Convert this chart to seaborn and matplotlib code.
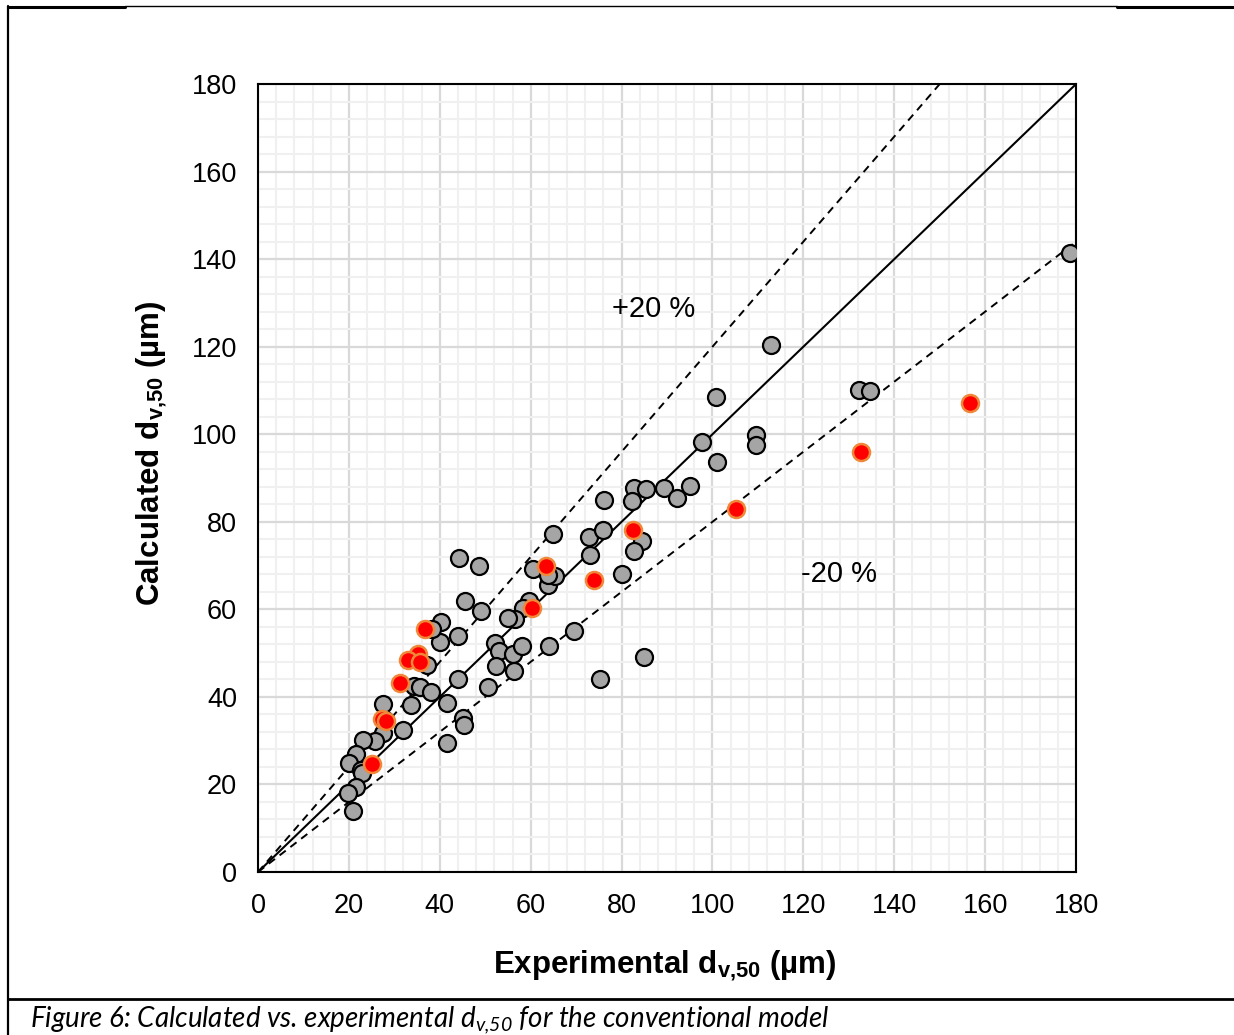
import numpy as np
import pandas as pd
import matplotlib
matplotlib.use("Agg")
import matplotlib.pyplot as plt
from matplotlib.lines import Line2D
from matplotlib.ticker import MultipleLocator
import seaborn as sns

# conventional model: grey points
gray_exp = [178.6, 112.9, 100.8, 132.3, 134.7, 109.5, 109.6, 97.7, 101.1, 82.8,
            85.4, 89.4, 95.1, 92.2, 82.2, 76.2, 72.8, 75.8, 64.8, 73.1,
            84.6, 82.8, 80.0, 75.3, 84.9, 69.5, 64.1, 63.8, 65.4, 60.4,
            63.8, 44.2, 48.6, 45.6, 49.0, 59.6, 58.4, 56.5, 55.1, 52.1,
            53.0, 56.2, 58.0, 52.4, 56.4, 50.5, 44.1, 44.0, 40.3, 40.0,
            37.2, 38.2, 34.4, 35.7, 38.0, 41.5, 33.7, 27.4, 27.6, 27.9,
            32.0, 25.7, 23.0, 21.6, 20.0, 22.7, 22.8, 21.6, 19.9, 20.8,
            41.5, 45.2, 45.4]
gray_calc = [141.5, 120.4, 108.6, 110.1, 109.8, 99.8, 97.5, 98.3, 93.6, 87.7,
             87.5, 87.8, 88.1, 85.5, 84.7, 85.0, 76.5, 78.1, 77.2, 72.5,
             75.6, 73.4, 68.1, 44.1, 49.1, 55.0, 51.6, 65.5, 67.6, 69.2,
             67.8, 71.8, 69.9, 61.8, 59.7, 61.8, 60.3, 57.7, 58.1, 52.4,
             50.4, 49.7, 51.7, 47.1, 45.9, 42.2, 44.1, 53.9, 57.1, 52.5,
             47.3, 55.5, 42.6, 42.2, 41.1, 38.5, 38.1, 38.4, 31.8, 34.7,
             32.4, 30.0, 30.2, 27.0, 25.0, 23.3, 22.7, 19.5, 18.0, 13.9,
             29.4, 35.1, 33.6]

# highlighted points (red)
red_exp = [156.7, 132.6, 105.2, 82.5, 73.9, 63.4, 60.2, 36.8, 35.2, 33.0,
           35.7, 31.3, 27.2, 28.2, 25.0]
red_calc = [107.1, 95.9, 82.9, 78.1, 66.7, 70.0, 60.4, 55.5, 49.9, 48.5,
            47.9, 43.1, 34.9, 34.5, 24.7]

ratios = [1.0, 1.2, 0.8]
band_labels = ["+20 %", "-20 %"]
band_label_pos = [(87.1, 128.6), (127.9, 68.1)]
ticks = list(range(0, 181, 20))

sns.set_style("white")
plt.rcParams["font.family"] = ["Liberation Sans", "DejaVu Sans"]
plt.rcParams["text.color"] = "black"
plt.rcParams["axes.labelcolor"] = "black"
plt.rcParams["xtick.color"] = "black"
plt.rcParams["ytick.color"] = "black"
plt.rcParams["mathtext.fontset"] = "custom"
plt.rcParams["mathtext.rm"] = "Lato:italic"
plt.rcParams["mathtext.it"] = "Lato:italic"
plt.rcParams["mathtext.bf"] = "Liberation Sans:bold"

df = pd.concat([
    pd.DataFrame({"exp": gray_exp, "calc": gray_calc, "set": "conv"}),
    pd.DataFrame({"exp": red_exp, "calc": red_calc, "set": "red"}),
], ignore_index=True)

fig = plt.figure(figsize=(12.34, 10.35), dpi=100)
ax = fig.add_axes([0.2091, 0.1575, 0.6629, 0.7613])

# grid
ax.xaxis.set_major_locator(MultipleLocator(20))
ax.yaxis.set_major_locator(MultipleLocator(20))
ax.xaxis.set_minor_locator(MultipleLocator(4))
ax.yaxis.set_minor_locator(MultipleLocator(4))
ax.grid(which="minor", color="#F0F0F0", lw=1.5, zorder=0)
ax.grid(which="major", color="#D9D9D9", lw=1.6, zorder=0)
ax.set_axisbelow(True)

# parity and +/-20 % lines
ax.axline((0, 0), slope=ratios[0], color="black", lw=1.5, zorder=2)
for r in ratios[1:]:
    ax.axline((0, 0), slope=r, color="black", lw=1.4, ls=(0, (4, 3)), zorder=2)

sns.scatterplot(data=df[df["set"] == "conv"], x="exp", y="calc", ax=ax,
                color="#A5A5A5", edgecolor="black", linewidth=1.6, s=150,
                zorder=3, legend=False)
sns.scatterplot(data=df[df["set"] == "red"], x="exp", y="calc", ax=ax,
                color="#FF0000", edgecolor="#F0883A", linewidth=1.8, s=150,
                zorder=4, legend=False)

for lab, (lx, ly) in zip(band_labels, band_label_pos):
    ax.text(lx, ly, lab, fontsize=21, ha="center", va="center")

ax.set_xlim(0, 180)
ax.set_ylim(0, 180)
ax.set_xticks(ticks)
ax.set_yticks(ticks)
ax.tick_params(which="both", length=0, labelsize=19.5, pad=15)
for sp in ax.spines.values():
    sp.set_color("black")
    sp.set_linewidth(1.5)

ax.set_xlabel(r"Experimental d$_{\mathbf{v{,}50}}$ (µm)", fontsize=22.5,
              fontweight="bold")
ax.set_ylabel(r"Calculated d$_{\mathbf{v{,}50}}$ (µm)", fontsize=22.5,
              fontweight="bold")
ax.xaxis.set_label_coords(0.497, -0.097)
ax.yaxis.set_label_coords(-0.108, 0.531)

# document frame
W, H = 1234, 1035
def fx(px):
    return px / W
def fy(py):
    return 1 - py / H
fig.add_artist(Line2D([fx(8), fx(8)], [fy(6), fy(1035)], color="black", lw=1.6))
fig.add_artist(Line2D([fx(8), fx(125)], [fy(7), fy(7)], color="black", lw=2.2))
fig.add_artist(Line2D([fx(125), fx(1117)], [fy(6), fy(6)], color="black", lw=1.0))
fig.add_artist(Line2D([fx(1117), fx(1234)], [fy(7), fy(7)], color="black", lw=2.2))
fig.add_artist(Line2D([fx(8), fx(1234)], [fy(999), fy(999)], color="black", lw=2.0))

fig.text(fx(30), fy(1020),
         r"Figure 6: Calculated vs. experimental d$_{v{,}50}$ for the conventional model",
         fontsize=20, family=["Lato", "DejaVu Sans"], style="italic",
         ha="left", va="center")

fig.savefig("out.png", dpi=100)
